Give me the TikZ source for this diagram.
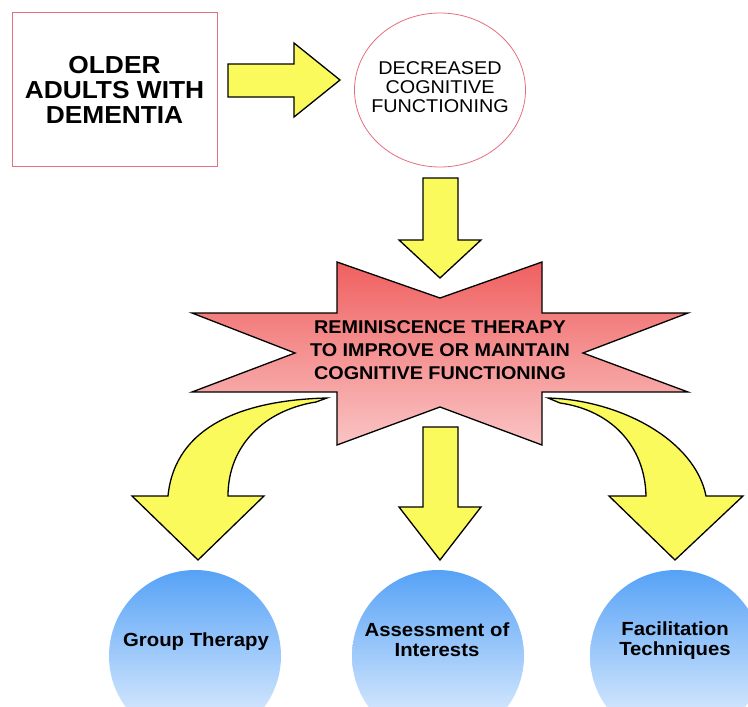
\documentclass[tikz,border=0pt]{standalone}
\usepackage{fontspec}
\setmainfont{Liberation Sans}[FakeStretch=1.07]
\usepackage{tikz}
\usetikzlibrary{positioning}
\usetikzlibrary{shapes.geometric}

\definecolor{boxred}{RGB}{226,112,126}
\definecolor{arrowyellow}{RGB}{250,250,92}
\definecolor{startop}{RGB}{240,96,96}
\definecolor{starbot}{RGB}{250,196,196}
\definecolor{balltop}{RGB}{86,162,246}
\definecolor{ballbot}{RGB}{236,244,255}

\tikzset{
  yarrow/.style={draw=black,fill=arrowyellow,line width=1.3pt,line join=miter},
  ball/.style={circle,minimum size=172pt,top color=balltop,bottom color=ballbot},
  balltext/.style={align=center,font=\bfseries\fontsize{19}{20}\selectfont},
}

\begin{document}
\begin{tikzpicture}[every node/.style={inner sep=0pt},x=1pt,y=-1pt]
\useasboundingbox (0,0) rectangle (748,707);
\clip (0,0) rectangle (748,707);

\node[draw=boxred,line width=0.8pt,minimum width=205pt,minimum height=154pt,
  align=center,font=\bfseries\fontsize{24.6}{25}\selectfont] (older) at (114.5,89.5)
  {OLDER\\ADULTS WITH\\DEMENTIA};
\node[ellipse,draw=boxred,line width=0.8pt,minimum width=171pt,minimum height=154pt] (decr) at (440,90) {};
\node[align=center,font=\fontsize{18.5}{19}\selectfont] (decrtext) at (440,87) {DECREASED\\COGNITIVE\\FUNCTIONING};

\draw[yarrow] (228,64) -- (294,64) -- (294,43) -- (340,80) -- (294,117) -- (294,97) -- (228,97) -- cycle;
\draw[yarrow] (423,178) -- (458,178) -- (458,240) -- (481,240) -- (440,278) -- (399,240) -- (423,240) -- cycle;

\path[draw=black,line width=1.3pt,line join=miter,top color=startop,bottom color=starbot]
  (337,262) -- (440,298) -- (542,262) -- (542,313) -- (688,313) -- (583,353) -- (688,392)
  -- (542,392) -- (542,445) -- (440,407) -- (337,445) -- (337,392) -- (192,392)
  -- (295,353) -- (192,313) -- (337,313) -- cycle;
\node[align=center,font=\bfseries\fontsize{18.5}{23}\selectfont] (remi) at (440,350)
  {REMINISCENCE THERAPY\\TO IMPROVE OR MAINTAIN\\COGNITIVE FUNCTIONING};

\draw[yarrow] (327,398) .. controls (245,400) and (175,425) .. (168,496) -- (132,496) -- (198,560)
  -- (264,496) -- (228,496) .. controls (228,445) and (265,410) .. (316,402) -- cycle;
\draw[yarrow] (423,427) -- (458,427) -- (458,507) -- (481,507) -- (440,560) -- (399,507) -- (423,507) -- cycle;
\draw[yarrow] (548,398) .. controls (620,400) and (695,440) .. (706,496) -- (743,496) -- (675,560)
  -- (609,496) -- (646,496) .. controls (645,445) and (610,410) .. (560,403) -- cycle;

\node[ball] (group) at (195,656) {};
\node[ball] (assess) at (438,656) {};
\node[ball] (facil) at (676,656) {};
\node[balltext] (grouptext) at (196,642) {Group Therapy};
\node[balltext] (assesstext) at (437,640) {Assessment of\\Interests};
\node[balltext] (faciltext) at (675,641) {Facilitation\\Techniques};
\end{tikzpicture}
\end{document}
